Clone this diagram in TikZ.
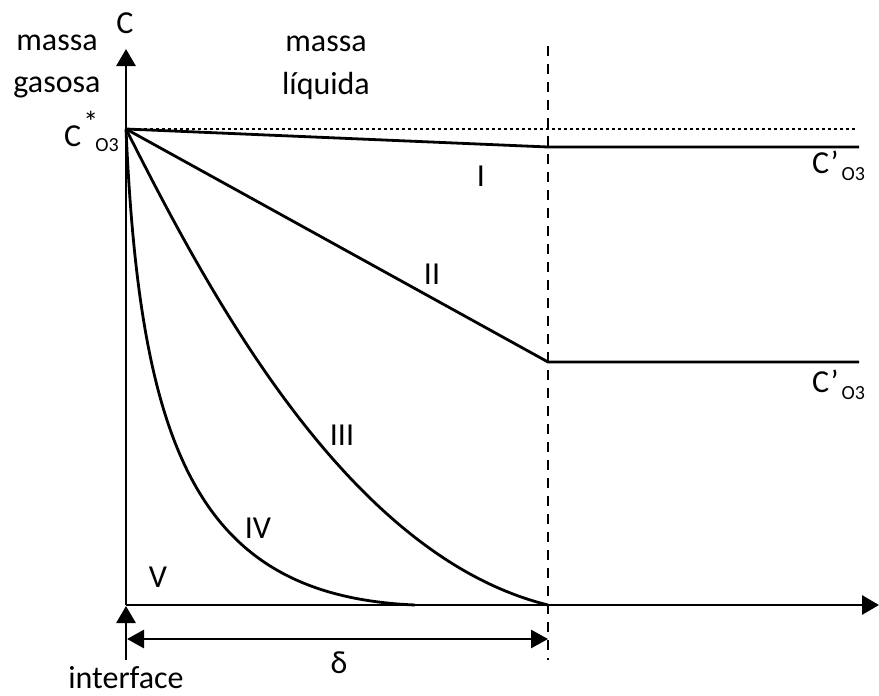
\documentclass[tikz,border=0pt]{standalone}
\usepackage{fontspec}
\setmainfont{Carlito}
\usetikzlibrary{arrows.meta}
\begin{document}
\begin{tikzpicture}[x=1pt,y=-1pt,
  lbl/.style={font=\fontsize{32}{36}\selectfont, inner sep=0pt},
  curve/.style={line width=2.8pt},
  axis/.style={line width=2.9pt},
  tri/.style={-{Triangle[length=17pt,width=19pt]}},
  dtri/.style={{Triangle[length=17pt,width=18pt]}-{Triangle[length=17pt,width=18pt]}},
  sub/.style={font=\fontsize{19}{19}\selectfont}]
\useasboundingbox (0,0) rectangle (879,696);
% coordinates
\coordinate (O) at (126,605);
\coordinate (top) at (126,49);
\coordinate (xend) at (879,605);
\coordinate (Cs) at (126,129);
\coordinate (dotend) at (857,129);
\coordinate (dtop) at (548,46);
\coordinate (dbot) at (548,660);
\coordinate (Ie) at (548,147);
\coordinate (Iend) at (859,147);
\coordinate (IIe) at (548,362);
\coordinate (IIend) at (859,362);
\coordinate (IIIe) at (548,605);
\coordinate (IVe) at (415,605);
\coordinate (ifb) at (126,660);
\coordinate (ift) at (126,606);
\coordinate (dl) at (127,639);
\coordinate (dr) at (548,639);
% dotted and dashed
\draw[line width=2.6pt, dash pattern=on 3pt off 3pt] (Cs) -- (dotend);
\draw[line width=2.6pt, dash pattern=on 10pt off 8pt] (dtop) -- (dbot);
% axes
\draw[axis,tri] (O) -- (top);
\draw[axis,tri] (O) -- (xend);
\draw[axis,tri] (ifb) -- (ift);
\draw[line width=2.8pt,dtri] (dl) -- (dr);
% curves
\draw[curve] (Cs) -- (Ie) -- (Iend);
\draw[curve] (Cs) -- (IIe) -- (IIend);
\draw[curve] (Cs) .. controls (212,300) and (350,556) .. (IIIe);
\draw[curve] (Cs) .. controls (140,450) and (198,596) .. (IVe);
% labels
\node[lbl,anchor=base] (lC) at (125,33) {C};
\node[lbl,anchor=base] (lm1) at (57,50) {massa};
\node[lbl,anchor=base] (lg) at (57,92) {gasosa};
\node[lbl,anchor=base] (lm2) at (326,51) {massa};
\node[lbl,anchor=base] (ll) at (326,94) {líquida};
\node[lbl,anchor=base west] (lCs) at (64,146) {C\makebox[0pt][l]{\hspace{2pt}\raisebox{0.42em}{\fontsize{30}{30}\selectfont *}}\hspace{14pt}\raisebox{-5pt}{\fontsize{20}{20}\selectfont O3}};
\node[lbl,anchor=base] (lI) at (481,186) {I};
\node[lbl,anchor=base] (lII) at (432,284) {II};
\node[lbl,anchor=base] (lIII) at (342,445) {III};
\node[lbl,anchor=base] (lIV) at (258,538) {IV};
\node[lbl,anchor=base] (lV) at (158,587) {V};
\node[lbl,anchor=base west] (lC1) at (812,173) {C’\hspace{3pt}\raisebox{-7pt}{\fontsize{20}{20}\selectfont O3}};
\node[lbl,anchor=base west] (lC2) at (812,392) {C’\hspace{3pt}\raisebox{-7pt}{\fontsize{20}{20}\selectfont O3}};
\node[lbl,anchor=base] (ld) at (339,673) {δ};
\node[lbl,anchor=base] (lif) at (126,688) {interface};
\end{tikzpicture}
\end{document}
